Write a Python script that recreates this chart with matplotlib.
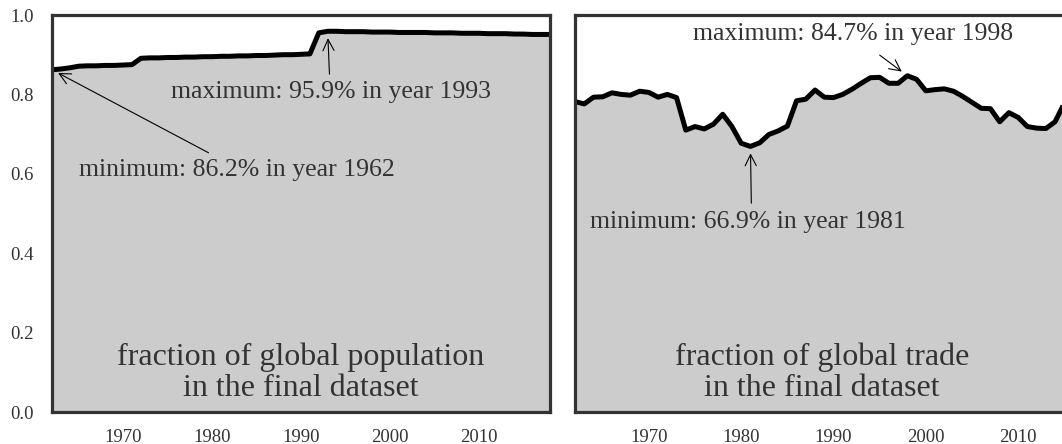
import numpy as np
import matplotlib
matplotlib.use("Agg")
import matplotlib.pyplot as plt

# ---- data ----
pop_years = list(range(1962, 2019))
pop_values = [0.862, 0.864, 0.867, 0.871, 0.872, 0.872, 0.873, 0.873, 0.874, 0.875,
              0.891, 0.892, 0.892, 0.893, 0.893, 0.894, 0.894, 0.895, 0.895, 0.896,
              0.896, 0.897, 0.897, 0.898, 0.898, 0.899, 0.900, 0.900, 0.901, 0.902,
              0.955, 0.959, 0.959, 0.958, 0.958, 0.958, 0.957, 0.957, 0.957, 0.956,
              0.956, 0.956, 0.956, 0.955, 0.955, 0.955, 0.954, 0.954, 0.954, 0.953,
              0.953, 0.953, 0.952, 0.952, 0.951, 0.951, 0.951]

trade_years = list(range(1962, 2019))
trade_values = [0.782, 0.776, 0.793, 0.794, 0.804, 0.800, 0.798, 0.808, 0.805, 0.793,
                0.800, 0.792, 0.710, 0.719, 0.713, 0.725, 0.750, 0.719, 0.677, 0.669,
                0.678, 0.699, 0.708, 0.720, 0.784, 0.788, 0.811, 0.793, 0.792, 0.800,
                0.813, 0.828, 0.842, 0.843, 0.828, 0.828, 0.847, 0.838, 0.809, 0.812,
                0.814, 0.808, 0.795, 0.780, 0.765, 0.764, 0.731, 0.754, 0.742, 0.719,
                0.715, 0.714, 0.731, 0.778, 0.800, 0.800, 0.800]

x_ticks = [1970, 1980, 1990, 2000, 2010]
y_ticks = [0.0, 0.2, 0.4, 0.6, 0.8, 1.0]

plt.rcParams['font.family'] = ['Liberation Serif', 'DejaVu Serif']
TXT = '#333333'

fig = plt.figure(figsize=(10.62, 4.44), dpi=100)
axL = fig.add_axes([52/1062, 32/444, 498/1062, 397/444])
axR = fig.add_axes([575/1062, 32/444, 517/1062, 397/444])

for ax, yrs, vals in [(axL, pop_years, pop_values), (axR, trade_years, trade_values)]:
    ax.fill_between(yrs, 0, vals, color='#cccccc', lw=0)
    ax.plot(yrs, vals, color='black', lw=3.6, solid_joinstyle='round', solid_capstyle='butt')
    ax.set_xlim(1962, 2018)
    ax.set_ylim(0, 1)
    ax.set_xticks(x_ticks)
    ax.set_yticks(y_ticks)
    ax.tick_params(length=0, labelsize=13.5, colors=TXT, pad=12)
    for s in ax.spines.values():
        s.set_color('#333333')
        s.set_linewidth(2.3)
        s.set_zorder(5)
    ax.set_facecolor('white')

axL.set_yticklabels([f"{v:.1f}" for v in y_ticks])
axL.tick_params(axis='y', pad=13)
axR.set_yticklabels([])

arrow_kw = dict(arrowstyle='->', color='black', lw=0.8, mutation_scale=20,
                shrinkA=0, shrinkB=5)
TFS = 18.5

def mark(ax, label, peak, tail, text_pos):
    ax.annotate('', xy=peak, xytext=tail, arrowprops=arrow_kw)
    ax.text(text_pos[0], text_pos[1], label, fontsize=TFS, color=TXT,
            ha='left', va='center')

# left panel annotations
i_max = int(np.argmax(pop_values)); i_min = int(np.argmin(pop_values))
mark(axL, f"maximum: {pop_values[i_max]*100:.1f}% in year {pop_years[i_max]}",
     (pop_years[i_max], pop_values[i_max]), (1993.2, 0.851), (1975.4, 0.805))
mark(axL, f"minimum: {pop_values[i_min]*100:.1f}% in year {pop_years[i_min]}",
     (pop_years[i_min], pop_values[i_min]), (1979.6, 0.653), (1965.0, 0.610))
axL.text(0.5, 0.098, "fraction of global population\nin the final dataset",
         transform=axL.transAxes, ha='center', va='center', fontsize=23,
         color=TXT, linespacing=1.1)

# right panel annotations
j_max = int(np.argmax(trade_values)); j_min = int(np.argmin(trade_values))
mark(axR, f"maximum: {trade_values[j_max]*100:.1f}% in year {trade_years[j_max]}",
     (trade_years[j_max], trade_values[j_max]), (1995.0, 0.899), (1974.8, 0.953))
mark(axR, f"minimum: {trade_values[j_min]*100:.1f}% in year {trade_years[j_min]}",
     (trade_years[j_min], trade_values[j_min]), (1981.1, 0.526), (1963.6, 0.479))
axR.text(0.478, 0.098, "fraction of global trade\nin the final dataset",
         transform=axR.transAxes, ha='center', va='center', fontsize=23,
         color=TXT, linespacing=1.1)

fig.savefig('out.png', dpi=100)
